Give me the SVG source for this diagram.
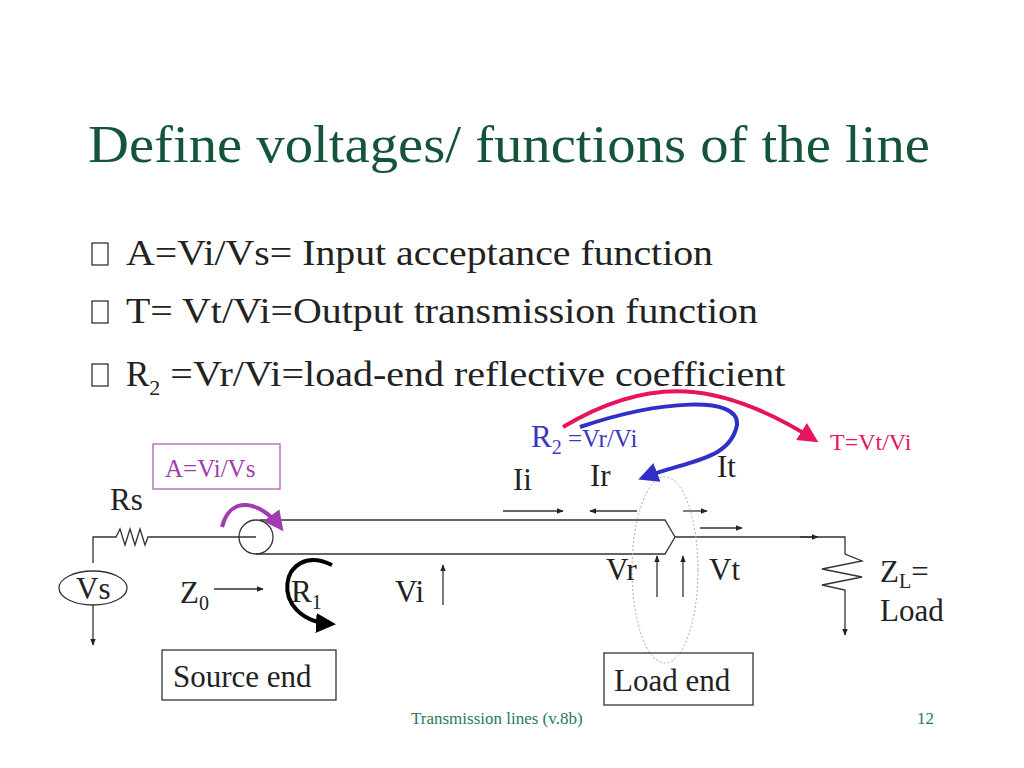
<svg xmlns="http://www.w3.org/2000/svg" width="1024" height="768" viewBox="0 0 1024 768">
<defs>
<marker id="a" viewBox="0 0 10 10" refX="9" refY="5" markerWidth="7" markerHeight="7" orient="auto" markerUnits="userSpaceOnUse"><path d="M0,1 L10,5 L0,9z" fill="#222"/></marker>
<marker id="ab" viewBox="0 0 10 10" refX="8" refY="5" markerWidth="5" markerHeight="5" orient="auto"><path d="M0,0 L10,5 L0,10z" fill="#000"/></marker>
<marker id="ap" viewBox="0 0 10 10" refX="8" refY="5" markerWidth="5" markerHeight="5" orient="auto"><path d="M0,0 L10,5 L0,10z" fill="#a03cb0"/></marker>
<marker id="ar" viewBox="0 0 10 10" refX="8" refY="5" markerWidth="5" markerHeight="5" orient="auto"><path d="M0,0 L10,5 L0,10z" fill="#e8135e"/></marker>
<marker id="au" viewBox="0 0 10 10" refX="8" refY="5" markerWidth="5" markerHeight="5" orient="auto"><path d="M0,0 L10,5 L0,10z" fill="#3030c8"/></marker>
</defs>
<style>
text{font-family:"Liberation Serif","Times New Roman",serif;fill:#222}
.w{stroke:#333;stroke-width:1.3;fill:none}
.l{font-size:31px}
.b{font-size:35px}
</style>
<rect width="1024" height="768" fill="#fff"/>
<text x="88" y="162" font-size="52" textLength="842" lengthAdjust="spacingAndGlyphs" style="fill:#14553a">Define voltages/ functions of the line</text>
<g class="b">
<rect x="92" y="243" width="16" height="22" fill="none" stroke="#222" stroke-width="1.2"/>
<text x="126" y="265" textLength="587" lengthAdjust="spacingAndGlyphs">A=Vi/Vs= Input acceptance function</text>
<rect x="92" y="301" width="16" height="22" fill="none" stroke="#222" stroke-width="1.2"/>
<text x="126" y="323" textLength="632" lengthAdjust="spacingAndGlyphs">T= Vt/Vi=Output transmission function</text>
<rect x="92" y="364" width="16" height="22" fill="none" stroke="#222" stroke-width="1.2"/>
<text x="126" y="386">R<tspan font-size="22" dy="9">2</tspan><tspan dy="-9" textLength="625" lengthAdjust="spacingAndGlyphs"> =Vr/Vi=load-end reflective coefficient</tspan></text>
</g>
<g id="line">
<path class="w" d="M260,520 H665 L675,537 L665,554 H256"/>
<circle cx="256" cy="537" r="17" class="w"/>
<path class="w" d="M93,563 V537 H116 l4,-8 l5,16 l5,-16 l5,16 l5,-16 l5,16 l3,-8 H256"/>
<path class="w" d="M675,537 H845 V554 l17,7 l-40,8 l40,8 l-40,8 l23,5 V635" marker-end="url(#a)"/>
<ellipse cx="93" cy="588" rx="34" ry="17" class="w"/>
<text x="76" y="599" class="l">Vs</text>
<text x="110" y="510" class="l">Rs</text>
<text x="880" y="582" class="l">Z<tspan font-size="20" dy="6">L</tspan><tspan dy="-6">=</tspan></text>
<text x="880" y="621" class="l">Load</text>
</g>
<g id="connectors">
<path class="w" d="M93,605 V645" marker-end="url(#a)"/>
<path class="w" d="M214,589 H263" marker-end="url(#a)"/>
<path class="w" d="M443,605 V565" marker-end="url(#a)"/>
<path class="w" d="M503,511 H563" marker-end="url(#a)"/>
<path class="w" d="M637,511 H590" marker-end="url(#a)"/>
<path class="w" d="M683,511 H707" marker-end="url(#a)"/>
<path class="w" d="M700,528 H742" marker-end="url(#a)"/>
<path class="w" d="M800,537 H818" marker-end="url(#a)"/>
<path class="w" d="M657,597 V556" marker-end="url(#a)"/>
<path class="w" d="M683,597 V556" marker-end="url(#a)"/>
<ellipse cx="665" cy="570" rx="33" ry="93" fill="none" stroke="#aaa" stroke-dasharray="2,2"/>
<path d="M222,527 C230,495 260,500 281,528" fill="none" stroke="#a03cb0" stroke-width="4" marker-end="url(#ap)"/>
<path d="M332,565 C280,540 265,620 332,624" fill="none" stroke="#000" stroke-width="4" marker-end="url(#ab)"/>
<path d="M563,427 C650,375 720,380 815,440" fill="none" stroke="#e8135e" stroke-width="4" marker-end="url(#ar)"/>
<path d="M580,427 C660,400 740,395 737,425 C730,460 690,460 642,478" fill="none" stroke="#3030c8" stroke-width="4" marker-end="url(#au)"/>
</g>
<g id="labels" class="l">
<text x="180" y="603">Z<tspan font-size="20" dy="7">0</tspan></text>
<text x="291" y="602">R<tspan font-size="20" dy="7">1</tspan></text>
<text x="395" y="602">Vi</text>
<text x="513" y="490">Ii</text>
<text x="590" y="486">Ir</text>
<text x="717" y="477">It</text>
<text x="606" y="580">Vr</text>
<text x="709" y="580">Vt</text>
<text x="531" y="447" style="fill:#3838c0">R<tspan font-size="20" dy="7">2</tspan><tspan font-size="25" dy="-7"> =Vr/Vi</tspan></text>
<text x="830" y="450" font-size="24" style="fill:#e8135e">T=Vt/Vi</text>
</g>
<g id="boxA"><rect x="153" y="444" width="127" height="45" fill="none" stroke="#b060b8" stroke-width="1.3"/><text x="165" y="477" font-size="25" style="fill:#a03cb0">A=Vi/Vs</text></g>
<g id="source"><rect x="162" y="650" width="174" height="50" fill="none" stroke="#333" stroke-width="1.3"/><text x="173" y="687" class="l">Source end</text></g>
<g id="load"><rect x="604" y="653" width="149" height="52" fill="none" stroke="#333" stroke-width="1.3"/><text x="614" y="691" class="l">Load end</text></g>
<text x="411" y="724" font-size="17" style="fill:#2a7a5a">Transmission lines (v.8b)</text>
<text x="917" y="724" font-size="17" style="fill:#2a7a5a">12</text>
</svg>
